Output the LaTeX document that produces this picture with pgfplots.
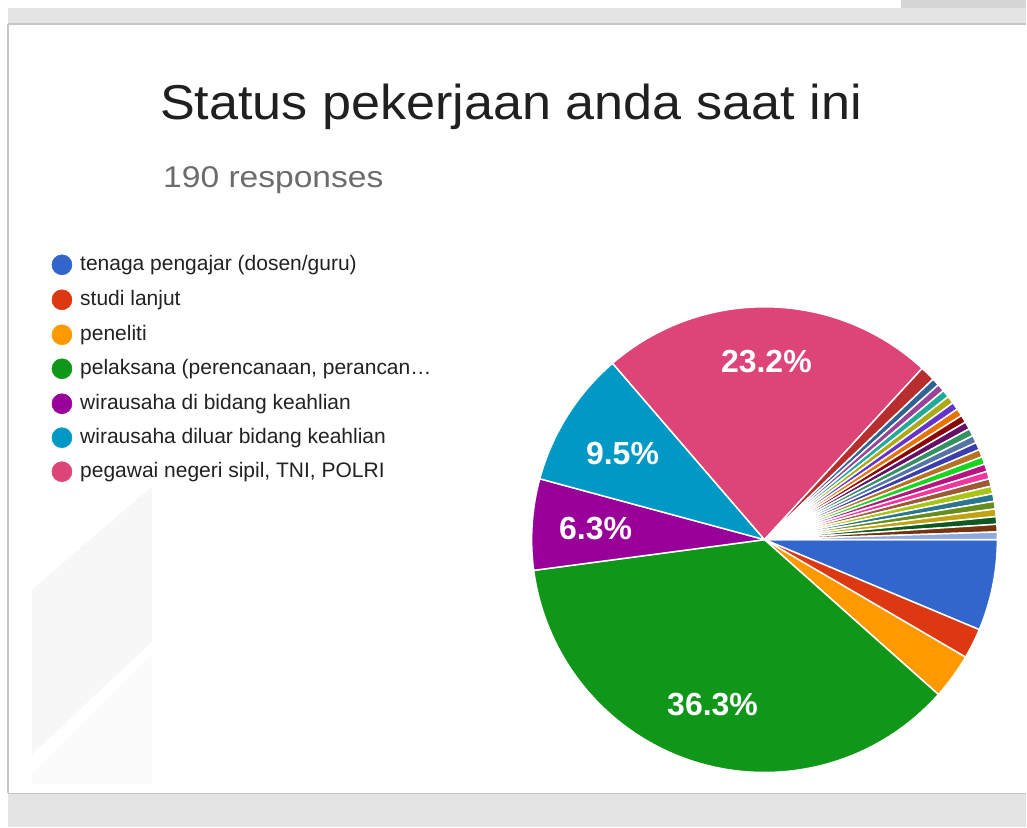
\documentclass[border=0pt]{standalone}
\usepackage{fontspec}
\setmainfont{Liberation Sans}
\usepackage{pgfplots}
\pgfplotsset{compat=1.18}
\usepgfplotslibrary{polar}

\definecolor{gblue}{HTML}{3366CC}
\definecolor{gred}{HTML}{DC3912}
\definecolor{gorange}{HTML}{FF9900}
\definecolor{ggreen}{HTML}{109618}
\definecolor{gpurple}{HTML}{990099}
\definecolor{gteal}{HTML}{0099C6}
\definecolor{gpink}{HTML}{DD4477}
\definecolor{c08}{HTML}{B82E2E}
\definecolor{c09}{HTML}{316395}
\definecolor{c10}{HTML}{994499}
\definecolor{c11}{HTML}{22AA99}
\definecolor{c12}{HTML}{AAAA11}
\definecolor{c13}{HTML}{6633CC}
\definecolor{c14}{HTML}{E67300}
\definecolor{c15}{HTML}{8B0707}
\definecolor{c16}{HTML}{651067}
\definecolor{c17}{HTML}{329262}
\definecolor{c18}{HTML}{5574A6}
\definecolor{c19}{HTML}{3B3EAC}
\definecolor{c20}{HTML}{B77322}
\definecolor{c21}{HTML}{16D620}
\definecolor{c22}{HTML}{B91383}
\definecolor{c23}{HTML}{F4359E}
\definecolor{c24}{HTML}{9C5935}
\definecolor{c25}{HTML}{A9C413}
\definecolor{c26}{HTML}{2A778D}
\definecolor{c27}{HTML}{668D1C}
\definecolor{c28}{HTML}{BEA413}
\definecolor{c29}{HTML}{0C5922}
\definecolor{c30}{HTML}{743411}
\definecolor{c31}{HTML}{8FA9E0}
\definecolor{titlec}{HTML}{202020}
\definecolor{subc}{HTML}{6C6C6C}
\definecolor{legc}{HTML}{222222}
\definecolor{bandc}{HTML}{E4E4E4}
\definecolor{linec}{HTML}{C6C6C6}
\definecolor{blockc}{HTML}{D6D6D6}
\definecolor{faint}{HTML}{F7F7F7}

% total responses
\def\total{190}
\def\pieR{174.75pt}
\gdef\cum{0}
% one slice: #1 = responses, #2 = colour; slices run clockwise from 3 o'clock
\newcommand\pieslice[2]{%
  \pgfmathsetmacro\sa{-\cum/\total*360}%
  \pgfmathsetmacro\da{-#1/\total*360}%
  \pgfmathsetmacro\newcum{\cum+#1}%
  \xdef\cum{\newcum}%
  \edef\doslice{\noexpand\addplot[fill=#2, draw=white, line width=1.1pt, line join=round] coordinates {(0,0) (\sa,1)} arc[start angle=\sa, delta angle=\da, radius=\pieR] -- cycle;}%
  \doslice}

\begin{document}
\begin{tikzpicture}
\begin{axis}[at={(0,0)}, anchor=south west, scale only axis,
  width=770.25pt, height=621pt, xmin=0, xmax=1027, ymin=0, ymax=828,
  axis lines=none, clip=false]
  % page and card
  \fill[white] (axis cs:0,0) rectangle (axis cs:1027,828);
  \fill[blockc] (axis cs:902,820) rectangle (axis cs:1027,828);
  \fill[bandc] (axis cs:8,804) rectangle (axis cs:1027,820);
  \fill[bandc] (axis cs:8,0) rectangle (axis cs:1027,34);
  \draw[linec, line width=1pt] (axis cs:8,804) -- (axis cs:1027,804);
  \draw[linec, line width=0.8pt] (axis cs:8,34) -- (axis cs:1027,34);
  \draw[linec, line width=0.8pt] (axis cs:8,34) -- (axis cs:8,804);
  % faint background shapes
  \fill[faint] (axis cs:32,238) -- (axis cs:152,341) -- (axis cs:152,186) -- (axis cs:32,73) -- cycle;
  \fill[faint!60!white] (axis cs:32,53) -- (axis cs:152,173) -- (axis cs:152,43) -- (axis cs:32,43) -- cycle;
  % title
  \node[anchor=base west, inner sep=0pt, text=titlec, xscale=1.065,
    font=\fontsize{36.75}{40}\selectfont] at (axis cs:160,708) {Status pekerjaan anda saat ini};
  \node[anchor=base west, inner sep=0pt, text=subc, xscale=1.12,
    font=\fontsize{22.5}{26}\selectfont] at (axis cs:163,640) {190 responses};
  % legend
  \addplot[only marks, mark=*, mark size=7.5pt, draw=gblue, fill=gblue] coordinates {(62,563)};
  \addplot[only marks, mark=*, mark size=7.5pt, draw=gred, fill=gred] coordinates {(62,528)};
  \addplot[only marks, mark=*, mark size=7.5pt, draw=gorange, fill=gorange] coordinates {(62,493)};
  \addplot[only marks, mark=*, mark size=7.5pt, draw=ggreen, fill=ggreen] coordinates {(62,459)};
  \addplot[only marks, mark=*, mark size=7.5pt, draw=gpurple, fill=gpurple] coordinates {(62,424)};
  \addplot[only marks, mark=*, mark size=7.5pt, draw=gteal, fill=gteal] coordinates {(62,390)};
  \addplot[only marks, mark=*, mark size=7.5pt, draw=gpink, fill=gpink] coordinates {(62,356)};
  \begin{scope}[every node/.style={anchor=west, inner sep=0pt, text=legc, font=\fontsize{15.75}{18}\selectfont}]
    \node at (axis cs:80,563) {tenaga pengajar (dosen/guru)};
    \node at (axis cs:80,528) {studi lanjut};
    \node at (axis cs:80,493) {peneliti};
    \node at (axis cs:80,459) {pelaksana (perencanaan, perancan…};
    \node at (axis cs:80,424) {wirausaha di bidang keahlian};
    \node at (axis cs:80,390) {wirausaha diluar bidang keahlian};
    \node at (axis cs:80,356) {pegawai negeri sipil, TNI, POLRI};
  \end{scope}
\end{axis}

\begin{polaraxis}[at={(573.75pt,216pt)}, anchor=origin, scale only axis,
  width=349.5pt, height=349.5pt, ymin=0, ymax=1, hide axis, clip=false]
  \pieslice{12}{gblue}
  \pieslice{4}{gred}
  \pieslice{6}{gorange}
  \pieslice{69}{ggreen}
  \pieslice{12}{gpurple}
  \pieslice{18}{gteal}
  \pieslice{44}{gpink}
  \pieslice{2}{c08}
  \pieslice{1}{c09}
  \pieslice{1}{c10}
  \pieslice{1}{c11}
  \pieslice{1}{c12}
  \pieslice{1}{c13}
  \pieslice{1}{c14}
  \pieslice{1}{c15}
  \pieslice{1}{c16}
  \pieslice{1}{c17}
  \pieslice{1}{c18}
  \pieslice{1}{c19}
  \pieslice{1}{c20}
  \pieslice{1}{c21}
  \pieslice{1}{c22}
  \pieslice{1}{c23}
  \pieslice{1}{c24}
  \pieslice{1}{c25}
  \pieslice{1}{c26}
  \pieslice{1}{c27}
  \pieslice{1}{c28}
  \pieslice{1}{c29}
  \pieslice{1}{c30}
  \pieslice{1}{c31}
  \begin{scope}[every node/.style={text=white, font=\bfseries\fontsize{24}{28}\selectfont, inner sep=0pt}]
    \node at (axis cs:89.4,0.764) {23.2\%};
    \node at (axis cs:148.8,0.713) {9.5\%};
    \node at (axis cs:176.3,0.727) {6.3\%};
    \node at (axis cs:252.5,0.742) {36.3\%};
  \end{scope}
\end{polaraxis}
\end{tikzpicture}
\end{document}
